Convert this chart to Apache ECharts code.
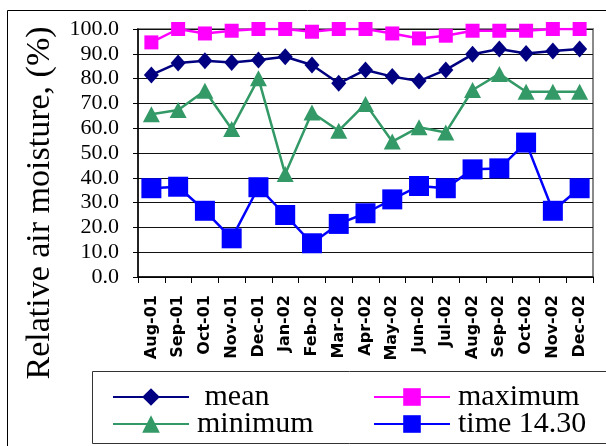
<!DOCTYPE html>
<html>
<head>
<meta charset="utf-8">
<script src="https://cdn.jsdelivr.net/npm/echarts@6/dist/echarts.min.js"></script>
<style>
  html, body { margin: 0; padding: 0; background: #fff; }
  #chart { width: 606px; height: 446px; }
</style>
</head>
<body>
<div id="chart"></div>
<script>
// Monthly relative air moisture, Aug 2001 – Dec 2002
const categories = ['Aug-01','Sep-01','Oct-01','Nov-01','Dec-01','Jan-02','Feb-02','Mar-02','Apr-02','May-02','Jun-02','Jul-02','Aug-02','Sep-02','Oct-02','Nov-02','Dec-02'];
const meanValues = [81.5, 86.3, 87.2, 86.5, 87.5, 88.8, 85.5, 78.1, 83.5, 80.8, 79.0, 83.5, 89.8, 91.9, 90.1, 91.1, 91.9];
const maximumValues = [94.6, 100.0, 98.2, 99.3, 100.0, 100.0, 98.9, 100.0, 100.0, 98.2, 96.2, 97.3, 99.3, 99.3, 99.3, 100.0, 100.0];
const minimumValues = [65.6, 67.3, 75.1, 59.7, 80.1, 41.5, 66.3, 59.0, 69.8, 54.6, 60.4, 58.3, 75.4, 81.9, 74.7, 74.7, 74.7];
const time1430Values = [35.8, 36.4, 26.7, 15.6, 36.2, 25.0, 13.6, 21.4, 25.7, 31.3, 36.7, 35.8, 43.4, 43.8, 54.2, 26.7, 35.8];
const yTicks = { min: 0, max: 100, step: 10 };

const serif = '"Liberation Serif", "Times New Roman", serif';

const chart = echarts.init(document.getElementById('chart'), null, { renderer: 'canvas' });

function lineSeries(name, data, color, symbol, size, width) {
  return {
    name: name,
    type: 'line',
    data: data,
    symbol: symbol,
    symbolSize: size,
    showAllSymbol: true,
    lineStyle: { color: color, width: width },
    itemStyle: { color: color, borderWidth: 0 },
    emphasis: { disabled: true },
    animation: false
  };
}

// one legend block per entry so the two columns line up exactly
function legendAt(name, left, centerY, extraSpace) {
  const h = 22;
  return {
    data: [name],
    left: left,
    top: centerY - h / 2,
    padding: 0,
    itemWidth: 76,
    itemHeight: h,
    selectedMode: false,
    formatter: n => (extraSpace ? ' ' : '') + n,
    textStyle: {
      fontFamily: serif,
      fontSize: 30,
      color: '#000',
      lineHeight: h,
      padding: [0, 0, 0, 3]
    }
  };
}

chart.setOption({
  backgroundColor: '#fff',
  animation: false,
  grid: {
    left: 138, right: 13, top: 29, bottom: 169,
    show: true,
    borderColor: '#8a8a8a',
    borderWidth: 2,
    backgroundColor: 'transparent'
  },
  xAxis: {
    type: 'category',
    data: categories,
    boundaryGap: true,
    axisLine: { lineStyle: { color: '#000', width: 1.5 } },
    axisTick: { show: true, alignWithLabel: false, length: 6, lineStyle: { color: '#000', width: 1 } },
    axisLabel: {
      rotate: 90,
      margin: 18,
      interval: 0,
      fontFamily: '"DejaVu Sans", sans-serif',
      fontWeight: 'bold',
      fontSize: 16,
      color: '#000'
    },
    splitLine: { show: false }
  },
  yAxis: {
    type: 'value',
    min: yTicks.min,
    max: yTicks.max,
    interval: yTicks.step,
    axisLine: { show: true, lineStyle: { color: '#000', width: 1.5 } },
    axisTick: { show: true, length: 5, lineStyle: { color: '#000' } },
    axisLabel: {
      margin: 19,
      fontFamily: serif,
      fontSize: 22,
      color: '#000',
      formatter: v => v.toFixed(1)
    },
    splitLine: { show: true, lineStyle: { color: '#111', width: 1 } }
  },
  legend: [
    legendAt('mean', 112, 393, true),
    legendAt('maximum', 373, 393, false),
    legendAt('minimum', 112, 420, false),
    legendAt('time 14.30', 373, 420, false)
  ],
  graphic: [
    {
      type: 'rect',
      shape: { x: 7.5, y: 10.5, width: 620, height: 460 },
      style: { fill: 'none', stroke: '#000', lineWidth: 1 },
      silent: true, z: -1
    },
    {
      type: 'rect',
      shape: { x: 92.5, y: 371.5, width: 530, height: 72 },
      style: { fill: 'none', stroke: '#333', lineWidth: 1 },
      silent: true
    },
    {
      type: 'text',
      x: 40, y: 203,
      rotation: Math.PI / 2,
      style: {
        text: 'Relative air moisture, (%)',
        fontFamily: serif,
        fontSize: 34,
        fill: '#000',
        align: 'center',
        verticalAlign: 'middle'
      },
      silent: true
    }
  ],
  series: [
    lineSeries('mean', meanValues, '#000080', 'diamond', [15, 17], 2.5),
    lineSeries('maximum', maximumValues, '#ff00ff', 'rect', [14, 14], 2.5),
    lineSeries('minimum', minimumValues, '#339966', 'triangle', [17, 16], 2.5),
    lineSeries('time 14.30', time1430Values, '#0000ff', 'rect', [20, 20], 2.5)
  ]
});
</script>
</body>
</html>
